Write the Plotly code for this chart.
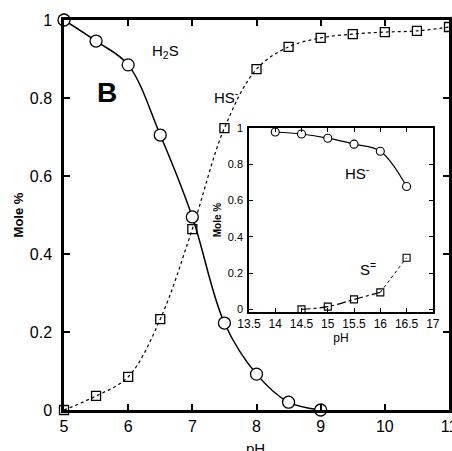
import plotly.graph_objects as go

# Main panel data
ph_main = [5, 5.5, 6, 6.5, 7, 7.5, 8, 8.5, 9]
h2s = [1.0, 0.946, 0.885, 0.705, 0.495, 0.223, 0.092, 0.02, 0.0]
ph_hs = [5, 5.5, 6, 6.5, 7, 7.5, 8, 8.5, 9, 9.5, 10, 10.5, 11]
hs = [0.0, 0.036, 0.085, 0.233, 0.464, 0.723, 0.874, 0.931, 0.954, 0.964, 0.969, 0.972, 0.982]

# Inset data
ph_inset_hs = [14, 14.5, 15, 15.5, 16, 16.5]
hs_inset = [0.978, 0.967, 0.944, 0.911, 0.872, 0.678]
ph_inset_s = [14.5, 15, 15.5, 16, 16.5]
s2 = [0.0, 0.015, 0.055, 0.094, 0.285]

FONT = "Liberation Sans, Arial, sans-serif"

fig = go.Figure()

fig.add_trace(go.Scatter(x=ph_hs, y=hs, mode="lines+markers",
    line=dict(color="black", width=1.2, dash="dot", shape="spline"),
    marker=dict(symbol="square-open", size=9, color="black", line=dict(width=1.3)),
    cliponaxis=False, showlegend=False))
fig.add_trace(go.Scatter(x=ph_main, y=h2s, mode="lines+markers",
    line=dict(color="black", width=1.5, shape="spline"),
    marker=dict(symbol="circle", size=12, color="white", line=dict(color="black", width=1.3)),
    cliponaxis=False, showlegend=False))

# Inset
fig.add_trace(go.Scatter(x=ph_inset_hs, y=hs_inset, mode="lines+markers",
    line=dict(color="black", width=1.2, shape="spline"),
    marker=dict(symbol="circle", size=8, color="white", line=dict(color="black", width=1.1)),
    xaxis="x2", yaxis="y2", cliponaxis=False, showlegend=False))
fig.add_trace(go.Scatter(x=ph_inset_s[:4], y=s2[:4], mode="lines",
    line=dict(color="black", width=1.2, dash="dashdot", shape="spline"),
    xaxis="x2", yaxis="y2", showlegend=False))
fig.add_trace(go.Scatter(x=ph_inset_s[3:], y=s2[3:], mode="lines",
    line=dict(color="black", width=1.0, dash="dot", shape="spline"),
    xaxis="x2", yaxis="y2", showlegend=False))
fig.add_trace(go.Scatter(x=ph_inset_s, y=s2, mode="markers",
    marker=dict(symbol="square-open", size=7, color="black", line=dict(width=1.1)),
    xaxis="x2", yaxis="y2", cliponaxis=False, showlegend=False))

axis_common = dict(showgrid=False, zeroline=False, showline=True, linecolor="black",
                   ticks="inside", mirror="ticks", tickcolor="black", automargin=False)

fig.update_layout(
    width=452, height=451,
    margin=dict(l=64, r=3, t=20, b=41),
    plot_bgcolor="white", paper_bgcolor="white",
    font=dict(family=FONT, color="black"),
    xaxis=dict(**axis_common, range=[5, 11], dtick=1, linewidth=2.5, ticklen=6, tickwidth=1.5,
               tickfont=dict(size=16), ticklabeloverflow="allow"),
    yaxis=dict(**axis_common, range=[0, 1], dtick=0.2, linewidth=2.5, ticklen=6, tickwidth=1.5,
               tickfont=dict(size=16), ticklabelstandoff=6,
               title=dict(text="<b>Mole %</b>", font=dict(size=13), standoff=4)),
    xaxis2=dict(**axis_common, domain=[0.4805, 0.958], anchor="y2", range=[13.5, 17], dtick=0.5,
                linewidth=1.5, ticklen=4, tickwidth=1, tickfont=dict(size=12),
                title=dict(text="pH", font=dict(size=12), standoff=2)),
    yaxis2=dict(**axis_common, domain=[0.251, 0.723], anchor="x2", range=[-0.015, 1], dtick=0.2,
                tickvals=[0, 0.2, 0.4, 0.6, 0.8, 1],
                linewidth=1.5, ticklen=4, tickwidth=1, tickfont=dict(size=11), ticklabelstandoff=2,
                title=dict(text="<b>Mole %</b>", font=dict(size=10), standoff=4)),
)

ann = [
    dict(x=0.0805, y=0.815, text="<b>B</b>", font=dict(size=28)),
    dict(x=0.223, y=0.918, text="H<sub>2</sub>S", font=dict(size=15)),
    dict(x=0.421, y=0.803, text="HS<sup>-</sup>", font=dict(size=15)),
    dict(x=0.80, y=0.608, text="HS<sup>-</sup>", font=dict(size=15)),
    dict(x=0.816, y=0.362, text="S<sup>=</sup>", font=dict(size=15)),
    dict(x=0.497, y=-0.071, text="pH", font=dict(size=15), yanchor="top"),
]
for a in ann:
    a.setdefault("yanchor", "middle")
    fig.add_annotation(xref="paper", yref="paper", showarrow=False, **a)

fig.write_html("out.html", config={"displayModeBar": False},
               post_script="document.body.style.margin='0';")
